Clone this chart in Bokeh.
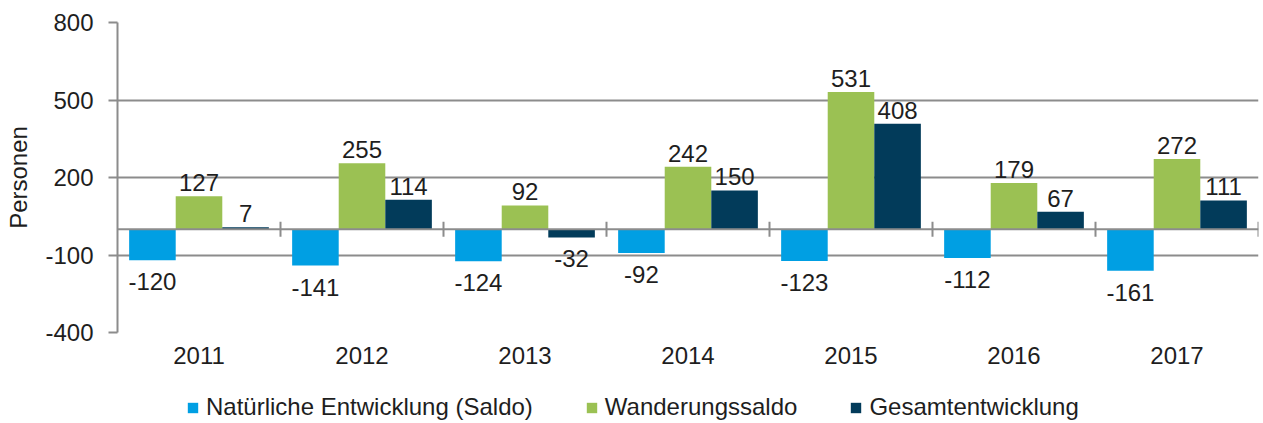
from bokeh.plotting import figure
from bokeh.layouts import column
from bokeh.models import (Range1d, FixedTicker, Span, Legend, LegendItem,
                          ColumnDataSource)
from bokeh.core.properties import value
from bokeh.embed import file_html
from bokeh.resources import INLINE

years = ["2011", "2012", "2013", "2014", "2015", "2016", "2017"]
natuerlich = [-120, -141, -124, -92, -123, -112, -161]
wanderung = [127, 255, 92, 242, 531, 179, 272]
gesamt = [7, 114, -32, 150, 408, 67, 111]
series_names = ["Natürliche Entwicklung (Saldo)", "Wanderungssaldo", "Gesamtentwicklung"]
y_ticks = [-400, -100, 200, 500, 800]

colors = ["#009FE3", "#9BC153", "#023B5A"]
FONT = "Liberation Sans"
TXT = "#1e1e1e"
GRID = "#8c8c8c"

n = len(years)
bw = 1 / 3.5
W = 1262

p = figure(width=W, height=375, output_backend="svg", toolbar_location=None,
           x_range=Range1d(0, n), y_range=Range1d(-400, 800),
           min_border_left=117, min_border_top=22, min_border_right=4,
           min_border_bottom=43)
p.outline_line_color = None
p.background_fill_color = "white"
p.border_fill_color = "white"

# grid
p.xgrid.visible = False
p.ygrid.ticker = FixedTicker(ticks=y_ticks)
p.ygrid.grid_line_color = GRID
p.ygrid.grid_line_width = 2

# y axis
p.yaxis.ticker = FixedTicker(ticks=y_ticks)
p.yaxis.major_label_overrides = {t: str(t) for t in y_ticks}
p.yaxis.axis_line_color = GRID
p.yaxis.axis_line_width = 2
p.yaxis.major_tick_line_color = GRID
p.yaxis.major_tick_line_width = 2
p.yaxis.major_tick_out = 9
p.yaxis.major_tick_in = 0
p.yaxis.minor_tick_line_color = None
p.yaxis.major_label_standoff = 15
p.yaxis.major_label_text_font = FONT
p.yaxis.major_label_text_font_size = "24px"
p.yaxis.major_label_text_color = TXT
p.yaxis.axis_label = "Personen"
p.yaxis.axis_label_text_font = FONT
p.yaxis.axis_label_text_font_size = "24px"
p.yaxis.axis_label_text_font_style = "normal"
p.yaxis.axis_label_text_color = TXT
p.yaxis.axis_label_standoff = 10

# x axis (category labels at bottom)
centers = [i + 0.5 for i in range(n)]
p.xaxis.ticker = FixedTicker(ticks=centers)
p.xaxis.major_label_overrides = {c: y for c, y in zip(centers, years)}
p.xaxis.axis_line_color = None
p.xaxis.major_tick_line_color = None
p.xaxis.minor_tick_line_color = None
p.xaxis.major_label_standoff = 8
p.xaxis.major_label_text_font = FONT
p.xaxis.major_label_text_font_size = "24px"
p.xaxis.major_label_text_color = TXT

# zero line and category separators
p.add_layout(Span(location=0, dimension="width", line_color=GRID, line_width=2))
bounds = list(range(1, n + 1))
p.segment(x0=bounds, x1=bounds, y0=[-29] * n, y1=[29] * n,
          line_color=GRID, line_width=2)

for k, (vals, col) in enumerate(zip([natuerlich, wanderung, gesamt], colors)):
    xs = [c + (k - 1) * bw for c in centers]
    src = ColumnDataSource(dict(
        x=xs, top=vals,
        label=[str(v) for v in vals],
        base=["bottom" if v >= 0 else "top" for v in vals],
        yoff=[-5 if v >= 0 else 13 for v in vals],
    ))
    p.vbar(x="x", top="top", bottom=0, width=bw, source=src,
           fill_color=col, line_color=None)
    p.text(x="x", y="top", text="label", source=src,
           text_align="center", text_baseline="base", y_offset="yoff",
           text_font=value(FONT), text_font_size="24px", text_color=TXT)

# legend strip
lf = figure(width=W, height=47, output_backend="svg", toolbar_location=None,
            x_range=Range1d(0, 1), y_range=Range1d(0, 1),
            min_border=0)
lf.axis.visible = False
lf.grid.visible = False
lf.outline_line_color = None
lrs = [lf.vbar(x=[-10], top=[-10], bottom=[-11], width=1, fill_color=c, line_color=None)
       for c in colors]
legend = Legend(items=[LegendItem(label=nm, renderers=[r])
                       for nm, r in zip(series_names, lrs)],
                orientation="horizontal", location=(69, 1),
                glyph_width=13, glyph_height=13, label_standoff=7, spacing=52,
                padding=0, margin=0, border_line_color=None,
                background_fill_alpha=0,
                label_text_font=FONT, label_text_font_size="24px",
                label_text_color=TXT, label_height=24)
lf.add_layout(legend, "center")

open("out.html", "w").write(file_html(column(p, lf, spacing=0), INLINE))
